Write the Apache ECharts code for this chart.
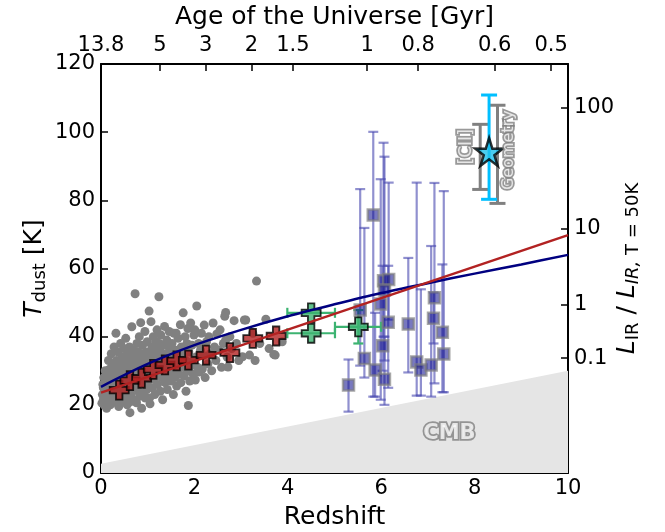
<!DOCTYPE html>
<html><head><meta charset="utf-8">
<script src="https://cdn.jsdelivr.net/npm/echarts@6/dist/echarts.min.js"></script>
<style>html,body{margin:0;padding:0;background:#fff}#c{width:665px;height:532px}</style>
</head><body><div id="c"></div>
<script>
// ---------- data ----------
const ageLabels = ['13.8','5','3','2','1.5','1','0.8','0.6','0.5'];
const ageZ      = [0, 1.26, 2.24, 3.22, 4.11, 5.70, 6.79, 8.43, 9.64];
const lirLabels = ['0.1','1','10','100'];
const lirT      = [33.7, 49.3, 71.8, 107.2];

const cmbZ = [0, 10];
const cmbT = [2.725, 29.975];

const blueFitZ = [0, 1, 2, 3, 4, 5, 6, 7, 8, 9, 10];
const blueFitT = [25.3, 32, 37.5, 42, 46, 49.5, 52.8, 55.7, 58.5, 61.2, 64];
const redFitZ = [0, 10];
const redFitT = [23.6, 69.8];

const redZ = [0.39, 0.62, 0.87, 1.12, 1.37, 1.62, 1.87, 2.25, 2.76, 3.25, 3.75];
const redT = [24.3, 27.1, 27.8, 30.4, 31.7, 32.9, 33.1, 34.6, 35.3, 39.5, 40.2];

const greenZ   = [4.5, 4.5, 5.51];
const greenT   = [47.0, 41.0, 42.9];
const greenZlo = [3.99, 3.99, 5.01];
const greenZhi = [5.01, 5.01, 6.0];
const greenTlo = [null, null, 38.0];
const greenThi = [null, null, 47.8];

const blueZ  = [5.30, 5.55, 5.64, 5.83, 5.87, 5.99, 6.05, 6.16, 6.07, 6.15, 6.03, 6.07, 6.58, 6.76, 6.85, 7.07, 7.14, 7.12, 7.31, 7.34];
const blueT  = [25.8, 47.8, 33.6, 75.7, 30.2, 49.6, 56.4, 56.8, 53.7, 44.2, 37.3, 27.5, 43.7, 32.6, 30.2, 31.7, 51.4, 45.4, 41.3, 34.9];
const blueLo = [18.0, 31.5, 28.0, 22.4, 22.4, 21.5, 40.0, 45.0, 33.0, 25.0, 30.0, 20.0, 29.5, 22.7, 22.7, 22.4, 26.3, 38.0, 23.7, 23.7];
const blueHi = [33.3, 83.3, 71.9, 100.1, 47.0, 86.2, 96.9, 85.2, 92.8, 60.8, 60.8, 40.0, 63.1, 85.2, 53.9, 66.6, 85.1, 53.0, 61.2, 82.7];

const starZ = 8.31, starT = 94.2, starLo = 80.3, starHi = 110.9;
const ciiZ = 8.12, ciiLo = 83.2, ciiHi = 102.3;
const geoZ = 8.49, geoLo = 79.1, geoHi = 107.9;

const textLabels = ['[CII]', 'Geometry', 'CMB'];
const textZ = [7.83, 8.74, 7.46];
const textT = [95.7, 94.7, 11.6];

const gal = [
[0.02,20.5],[0.03,23],[0.04,26],[0.05,21.5],[0.06,28],[0.07,24.5],[0.08,19.8],[0.09,30],[0.1,22],[0.11,26.5],[0.12,19],[0.13,24],[0.14,28.5],[0.15,21],[0.16,33],[0.17,25.5],[0.18,23],[0.19,30.5],[0.2,20],[0.21,27],[0.22,35],[0.23,22.5],[0.24,29],[0.25,25],
[0.26,31.5],[0.27,20.8],[0.28,37],[0.29,26],[0.3,23.5],[0.31,28],[0.32,41],[0.33,33],[0.34,21.5],[0.35,30],[0.36,25],[0.37,35.5],[0.38,19.5],[0.39,27.5],[0.4,32],[0.41,23],[0.42,38],[0.43,29.5],[0.44,21],[0.45,34],[0.46,26],[0.47,30.5],[0.48,24],[0.49,36.5],[0.5,28],
[0.51,22],[0.52,33],[0.53,39.5],[0.54,26.5],[0.55,30],[0.56,20],[0.57,35],[0.58,27],[0.59,24],[0.6,31.5],[0.61,37],[0.62,17.7],[0.63,29],[0.64,23],[0.65,33.5],[0.66,42.9],[0.67,26],[0.68,30],[0.69,36],[0.7,21.5],[0.71,28],[0.72,34],[0.73,52.6],[0.74,25],[0.75,31],
[0.76,20.6],[0.77,38],[0.78,27.5],[0.79,33],[0.8,24],[0.81,29.5],[0.82,40],[0.83,22.5],[0.84,35],[0.85,44.1],[0.86,31],[0.87,19],[0.88,26.5],[0.89,37.5],[0.9,28.5],[0.91,33.5],[0.92,23.5],[0.93,30],[0.94,41.5],[0.95,26],[0.96,35.5],[0.97,29],[0.98,24.5],[0.99,38.5],[1.0,32],
[1.01,27],[1.03,47.5],[1.04,22],[1.05,20.3],[1.06,34],[1.07,44.4],[1.08,29.5],[1.09,37],[1.1,25],[1.11,31.5],[1.12,40],[1.13,27.5],[1.14,35],[1.15,23],[1.16,32.5],[1.17,38.5],[1.18,29],[1.2,42],[1.21,26],[1.22,34.5],[1.24,51.7],[1.25,30],
[1.26,36.5],[1.27,24],[1.28,40.5],[1.3,28],[1.31,33],[1.32,21.5],[1.33,37.5],[1.35,30.5],[1.36,43],[1.37,26.5],[1.38,35],[1.4,31],[1.41,39],[1.42,24.5],[1.44,34],[1.45,28.5],[1.46,41.5],[1.48,32],[1.49,36.5],[1.5,27],
[1.52,38],[1.53,30],[1.55,23],[1.56,41],[1.57,33.5],[1.58,28],[1.6,36],[1.61,41],[1.62,25.5],[1.64,31.5],[1.65,39.5],[1.67,29],[1.68,34.5],[1.7,43.5],[1.71,26.5],[1.72,37],[1.74,31],
[1.76,47],[1.77,35],[1.78,28.5],[1.8,40],[1.81,33],[1.82,24],[1.84,38],[1.85,30],[1.86,42.4],[1.87,19.8],[1.88,35.5],[1.9,27],[1.92,44],[1.93,32.5],[1.95,37.5],[1.97,29],[1.99,40.5],
[2.01,42],[2.02,27.3],[2.03,34],[2.05,49],[2.07,31],[2.09,38],[2.11,29.6],[2.13,36],[2.15,41],[2.17,30.5],[2.19,34.5],[2.21,43.4],[2.23,28],[2.26,38.5],[2.29,32],[2.31,40],[2.34,35],[2.37,30],[2.4,44],[2.43,37],[2.46,33],[2.48,40.8],
[2.52,36],[2.55,42],[2.58,31],[2.62,38],[2.65,46],[2.67,39],[2.67,47.1],[2.7,34],[2.72,31.1],[2.76,40],[2.8,36.5],[2.85,44.7],[2.9,38],[2.95,33],
[3.03,34.1],[3.07,44.9],[3.1,44.9],[3.18,34.6],[3.25,41],[3.33,56.3],[3.4,38],[3.53,45.1],[3.6,36.5],[3.7,34.8],[3.73,34.6],[3.88,38.5],[3.3,33],
[0.05,25],[0.1,27.5],[0.15,30],[0.2,24],[0.25,32],[0.3,26.5],[0.35,22.5],[0.4,29],[0.45,24.5],[0.5,31],[0.55,25.5],[0.6,28.5],[0.65,21],[0.7,32.5],[0.75,27.5],[0.8,35.5],[0.85,28],[0.9,32],[0.95,22],[1.05,30.5],[1.1,36],[1.15,28],[1.2,33],[1.25,38],[1.3,31.5],[1.35,34.5],[1.45,37],[1.55,35],[1.6,30],[1.7,33.5],[1.8,36.5],[1.9,31]
];

// ---------- helpers ----------
const FONT = 'DejaVu Sans';
const plusPath = 'path://M3.3,0 H6.7 V3.3 H10 V6.7 H6.7 V10 H3.3 V6.7 H0 V3.3 H3.3 Z';
const starPath = 'path://M50,0 L61.2,34.6 L97.6,34.5 L68.1,55.9 L79.4,90.5 L50,69 L20.6,90.5 L31.9,55.9 L2.4,34.5 L38.8,34.6 Z';

function vErr(color, width, cap) {
  return function (params, api) {
    const x = api.value(0), lo = api.value(1), hi = api.value(2);
    const a = api.coord([x, lo]), b = api.coord([x, hi]);
    const st = { stroke: color, lineWidth: width };
    return { type: 'group', children: [
      { type: 'line', shape: { x1: a[0], y1: a[1], x2: b[0], y2: b[1] }, style: st },
      { type: 'line', shape: { x1: a[0]-cap, y1: a[1], x2: a[0]+cap, y2: a[1] }, style: st },
      { type: 'line', shape: { x1: b[0]-cap, y1: b[1], x2: b[0]+cap, y2: b[1] }, style: st }
    ]};
  };
}
function hErr(color, width, cap) {
  return function (params, api) {
    const y = api.value(0), lo = api.value(1), hi = api.value(2);
    const a = api.coord([lo, y]), b = api.coord([hi, y]);
    const st = { stroke: color, lineWidth: width };
    return { type: 'group', children: [
      { type: 'line', shape: { x1: a[0], y1: a[1], x2: b[0], y2: b[1] }, style: st },
      { type: 'line', shape: { x1: a[0], y1: a[1]-cap, x2: a[0], y2: a[1]+cap }, style: st },
      { type: 'line', shape: { x1: b[0], y1: b[1]-cap, x2: b[0], y2: b[1]+cap }, style: st }
    ]};
  };
}
function textSeries(i, size, rot, weight) {
  return { type: 'scatter', z: 10, data: [[textZ[i], textT[i]]], symbolSize: 1, silent: true,
    itemStyle: { color: 'rgba(0,0,0,0)' },
    label: { show: true, position: 'inside', formatter: textLabels[i], rotate: rot,
      fontFamily: FONT, fontSize: size, fontWeight: weight, color: '#fafafa',
      textBorderColor: '#7f7f7f', textBorderWidth: 3.5 },
    labelLayout: { hideOverlap: false } };
}

const blueErrData = blueZ.map((z, i) => [z, blueLo[i], blueHi[i]]);
const greenXErrData = greenZ.map((z, i) => [greenT[i], greenZlo[i], greenZhi[i]]);
const greenYErrData = greenZ.map((z, i) => [z, greenTlo[i], greenThi[i]]).filter(d => d[1] !== null);

const chart = echarts.init(document.getElementById('c'), null, { renderer: 'canvas' });
const axisCommon = {
  type: 'value', min: 0, max: 10,
  axisLine: { show: true, onZero: false, lineStyle: { color: '#000', width: 2 } },
  axisTick: { show: true, inside: true, length: 7, lineStyle: { color: '#000', width: 1.5 } },
  splitLine: { show: false },
  nameMoveOverlap: false,
  nameTextStyle: { fontFamily: FONT, fontSize: 25, color: '#000' }
};
const option = {
  animation: false,
  backgroundColor: '#fff',
  grid: { left: 101, right: 97, top: 64, bottom: 59, containLabel: false, outerBoundsMode: 'none' },
  xAxis: [
    Object.assign({}, axisCommon, {
      position: 'bottom', interval: 2, name: 'Redshift', nameLocation: 'middle', nameGap: 32,
      axisLabel: { fontFamily: FONT, fontSize: 21, color: '#000', margin: 5, showMinLabel: true, showMaxLabel: true, hideOverlap: false }
    }),
    Object.assign({}, axisCommon, {
      position: 'top', name: 'Age of the Universe [Gyr]', nameLocation: 'middle', nameGap: 34,
      axisTick: { show: true, inside: true, length: 7, customValues: ageZ, lineStyle: { color: '#000', width: 1.5 } },
      axisLabel: { fontFamily: FONT, fontSize: 21, color: '#000', margin: 8, customValues: ageZ, hideOverlap: false,
        formatter: function (v) { const i = ageZ.findIndex(a => Math.abs(a - v) < 1e-6); return i >= 0 ? ageLabels[i] : ''; } }
    })
  ],
  yAxis: [
    Object.assign({}, axisCommon, {
      position: 'left', min: 0, max: 120, interval: 20,
      name: '{it|T}{sub|dust} [K]', nameLocation: 'middle', nameGap: 52, nameRotate: 90,
      nameTextStyle: { fontFamily: FONT, fontSize: 25, color: '#000', lineHeight: 30,
        rich: { it: { fontFamily: FONT, fontSize: 25, fontStyle: 'italic', lineHeight: 30 },
                sub: { fontFamily: FONT, fontSize: 18, lineHeight: 18, verticalAlign: 'bottom' } } },
      axisLabel: { fontFamily: FONT, fontSize: 21, color: '#000', margin: 6, showMinLabel: true, showMaxLabel: true, hideOverlap: false }
    }),
    Object.assign({}, axisCommon, {
      position: 'right', min: 0, max: 120,
      name: '{it|L}{sub|IR} / {it|L}{subi|IR, }{sub|T = 50K}', nameLocation: 'middle', nameGap: 44, nameRotate: 90,
      nameTextStyle: { fontFamily: FONT, fontSize: 25, color: '#000', lineHeight: 30,
        rich: { it: { fontFamily: FONT, fontSize: 25, fontStyle: 'italic', lineHeight: 30 },
                sub: { fontFamily: FONT, fontSize: 18, lineHeight: 18, verticalAlign: 'bottom' },
                subi: { fontFamily: FONT, fontSize: 18, lineHeight: 18, fontStyle: 'italic', verticalAlign: 'bottom' } } },
      axisTick: { show: true, inside: true, length: 7, customValues: lirT, lineStyle: { color: '#000', width: 1.5 } },
      axisLabel: { fontFamily: FONT, fontSize: 21, color: '#000', margin: 6, customValues: lirT, hideOverlap: false,
        formatter: function (v) { const i = lirT.findIndex(a => Math.abs(a - v) < 1e-6); return i >= 0 ? lirLabels[i] : ''; } }
    })
  ],
  series: [
    { type: 'line', z: 1, data: cmbZ.map((z, i) => [z, cmbT[i]]), symbol: 'none', lineStyle: { width: 0 },
      areaStyle: { color: '#e5e5e5', opacity: 1, origin: 'start' }, silent: true },
    { type: 'scatter', data: gal, symbol: 'circle', symbolSize: 9, itemStyle: { color: '#808080', opacity: 1 } },
    { type: 'custom', data: blueErrData, renderItem: vErr('rgba(70,70,175,0.6)', 2.2, 5) },
    { type: 'scatter', data: blueZ.map((z, i) => [z, blueT[i]]), symbol: 'rect', symbolSize: 11,
      itemStyle: { color: 'rgba(15,15,140,0.7)', borderColor: 'rgba(128,128,128,0.85)', borderWidth: 2.5 } },
    { type: 'line', data: blueFitZ.map((z, i) => [z, blueFitT[i]]), symbol: 'none', smooth: 0.3,
      lineStyle: { color: '#000080', width: 2.5 } },
    { type: 'line', data: redFitZ.map((z, i) => [z, redFitT[i]]), symbol: 'none',
      lineStyle: { color: '#b22222', width: 2.5 } },
    { type: 'custom', data: greenXErrData, renderItem: hErr('#3cb371', 2.2, 5) },
    { type: 'custom', data: greenYErrData, renderItem: vErr('#3cb371', 2.2, 5) },
    { type: 'scatter', data: greenZ.map((z, i) => [z, greenT[i]]), symbol: plusPath, symbolSize: 19,
      itemStyle: { color: '#3cb371', borderColor: '#000', borderWidth: 1.8 } },
    { type: 'scatter', data: redZ.map((z, i) => [z, redT[i]]), symbol: plusPath, symbolSize: 19,
      itemStyle: { color: '#b22222', borderColor: '#000', borderWidth: 1.8 } },
    { type: 'custom', data: [[ciiZ, ciiLo, ciiHi], [geoZ, geoLo, geoHi]], renderItem: vErr('#808080', 3, 8) },
    { type: 'custom', data: [[starZ, starLo, starHi]], renderItem: vErr('#00bfff', 3, 8) },
    { type: 'scatter', data: [[starZ, starT]], symbol: starPath, symbolSize: 28,
      itemStyle: { color: '#1ec0ee', borderColor: '#000', borderWidth: 2.5 } },
    textSeries(0, 17, 90, 'normal'),
    textSeries(1, 16, 90, 'normal'),
    textSeries(2, 21, 0, 'bold')
  ]
};
chart.setOption(option);
</script>
</body></html>
